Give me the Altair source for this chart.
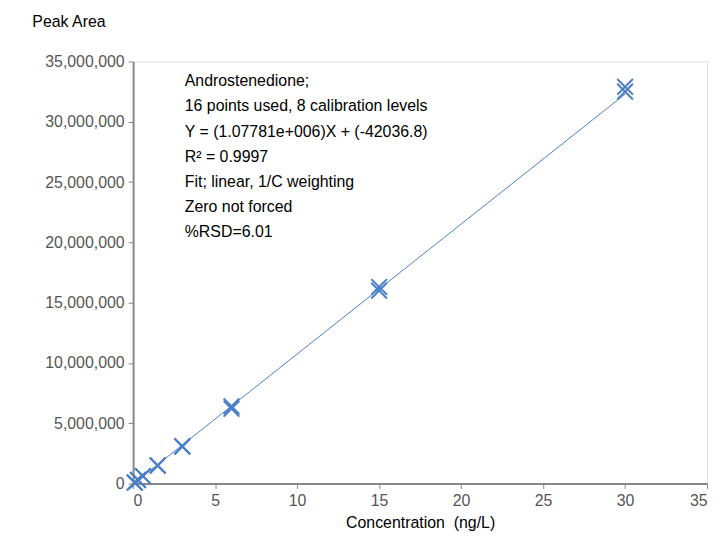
import altair as alt
import pandas as pd

conc = [0.1, 0.1, 0.3, 0.3, 0.6, 0.6, 1.5, 1.5, 3, 3, 6, 6, 15, 15, 30, 30]
area = [90000, 60000, 300000, 280000, 620000, 600000, 1500000, 1480000,
        3100000, 3050000, 6400000, 6200000, 16300000, 16000000, 32900000, 32500000]
slope, intercept = 1.07781e6, -42036.8
fit_x = [0, 30]

notes = ["Androstenedione;", "16 points used, 8 calibration levels",
         "Y = (1.07781e+006)X + (-42036.8)", "R\u00b2 = 0.9997",
         "Fit; linear, 1/C weighting", "Zero not forced", "%RSD=6.01"]

pts = pd.DataFrame({"x": conc, "y": area})
fit = pd.DataFrame({"x": fit_x, "y": [slope * v + intercept for v in fit_x]})
txt = pd.DataFrame({"t": notes, "i": list(range(len(notes)))})

xs = alt.Scale(domain=[0, 35], nice=False)
ys = alt.Scale(domain=[0, 35000000], nice=False)
gray = "#888888"
blue = "#4a7fc8"

line = alt.Chart(fit).mark_line(color=blue, strokeWidth=1).encode(
    x=alt.X("x:Q", scale=xs, title="Concentration \u00a0(ng/L)",
            axis=alt.Axis(values=list(range(0, 36, 5)), grid=False, domainColor=gray,
                          tickColor=gray, labelColor="#555555", labelFontSize=16,
                          titleFontSize=16, titleColor="black", titleFontWeight="normal",
                          labelPadding=4, titlePadding=6, tickSize=5, domainWidth=2)),
    y=alt.Y("y:Q", scale=ys, title="Peak Area",
            axis=alt.Axis(values=list(range(0, 35000001, 5000000)), format=",d", grid=False,
                          domainColor=gray, tickColor=gray, labelColor="#555555",
                          labelFontSize=16, titleFontSize=16, titleColor="black",
                          titleFontWeight="normal", titleAngle=0, titleAlign="left",
                          titleX=-102, titleY=-32, labelPadding=4, tickSize=5, domainWidth=2)),
)

marks = alt.Chart(pts).mark_point(shape="M-1,-1L1,1M-1,1L1,-1", size=250, color=blue,
                                  strokeWidth=2, filled=False, opacity=1).encode(
    x=alt.X("x:Q", scale=xs), y=alt.Y("y:Q", scale=ys))

notes_layer = alt.Chart(txt).mark_text(align="left", baseline="middle", fontSize=16,
                                       font="Liberation Sans", color="black").encode(
    x=alt.value(52), y=alt.value(20),
    yOffset=alt.YOffset("i:Q", scale=alt.Scale(domain=[0, 1], range=[0, 25.3])),
    text="t:N")

chart = (line + marks + notes_layer).properties(
    width=578, height=425, autosize=alt.AutoSizeParams(type="none"),
    padding={"left": 126, "top": 52, "right": 12, "bottom": 48},
).configure_view(stroke=None).configure(font="Liberation Sans")

chart.save("out.html", embed_options={"renderer": "svg", "actions": False})
